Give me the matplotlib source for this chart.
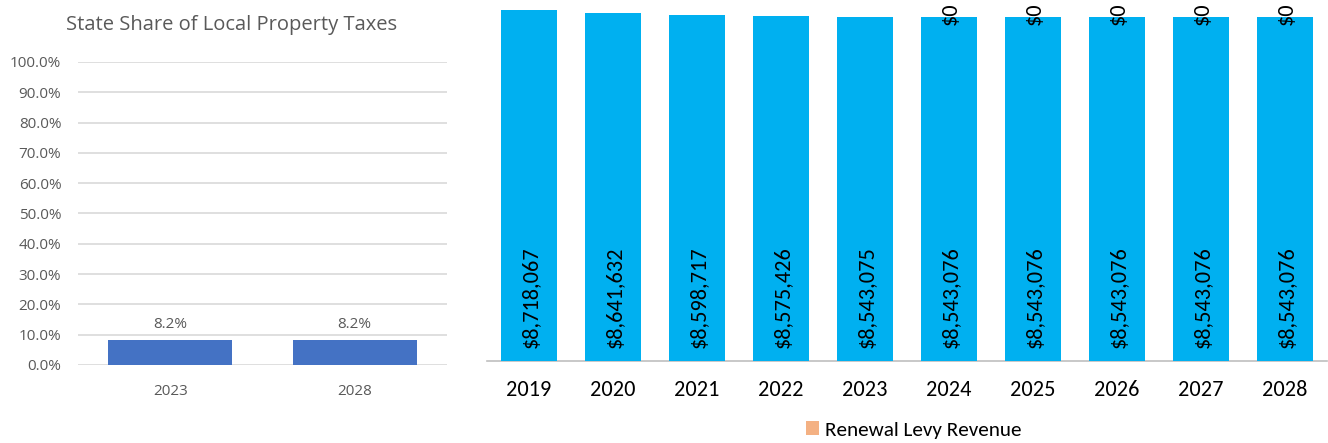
import numpy as np
import matplotlib.pyplot as plt

# left chart: state share
share_years = ['2023', '2028']
share_values = [0.082, 0.082]

# right chart: levy revenue
years = ['2019', '2020', '2021', '2022', '2023', '2024', '2025', '2026', '2027', '2028']
base_revenue = [8718067, 8641632, 8598717, 8575426, 8543075,
                8543076, 8543076, 8543076, 8543076, 8543076]
renewal_revenue = [np.nan, np.nan, np.nan, np.nan, np.nan, 0, 0, 0, 0, 0]

gray = '#595959'
left_font = ['Open Sans', 'DejaVu Sans']
right_font = ['Carlito', 'DejaVu Sans']

fig = plt.figure(figsize=(13.28, 4.43), dpi=100)

#%% left chart
ax1 = fig.add_axes([78/1328, 78/443, 369/1328, 303/443])
x1 = np.arange(len(share_years))
ax1.bar(x1, share_values, width=0.672, color='#4472C4', zorder=3)
ax1.set_xlim(-0.5, len(share_years) - 0.5)
ax1.set_ylim(0, 1)
ax1.set_yticks(np.arange(0, 1.01, 0.1))
ax1.set_yticklabels([f'{v*100:.1f}%' for v in np.arange(0, 1.01, 0.1)],
                    family=left_font, fontsize=11, color=gray)
ax1.set_xticks(x1)
ax1.set_xticklabels(share_years, family=left_font, fontsize=11, color=gray)
ax1.tick_params(axis='both', length=0)
ax1.tick_params(axis='y', pad=12)
ax1.tick_params(axis='x', pad=14)
ax1.grid(axis='y', color='#D9D9D9', linewidth=1.2, zorder=0)
for s in ax1.spines.values():
    s.set_visible(False)
for xi, v in zip(x1, share_values):
    ax1.annotate(f'{v*100:.1f}%', (xi, v), xytext=(0, 6), textcoords='offset points',
                 ha='center', va='bottom', family=left_font, fontsize=11, color=gray)
fig.text(232/1328, 1 - 25/443, 'State Share of Local Property Taxes', ha='center', va='center',
         family=left_font, fontsize=14.5, color=gray)

#%% right chart
ax2 = fig.add_axes([487/1328, 82/443, 840/1328, 362.3/443])
x2 = np.arange(len(years))
blue = ax2.bar(x2, base_revenue, width=0.667, color='#00B0F0', zorder=3)
orange = ax2.bar(x2, np.nan_to_num(renewal_revenue), bottom=base_revenue, width=0.667,
                 color='#F4B183', zorder=3, label='Renewal Levy Revenue')
ax2.set_xlim(-0.5, len(years) - 0.5)
ax2.set_ylim(0, 9000000)
ax2.set_yticks([])
ax2.set_xticks(x2)
ax2.set_xticklabels(years, family=right_font, fontsize=16, color='black')
ax2.tick_params(axis='x', length=0, pad=14)
for side in ['left', 'right', 'top']:
    ax2.spines[side].set_visible(False)
ax2.spines['bottom'].set_color('#BFBFBF')
ax2.spines['bottom'].set_linewidth(1.2)

for xi, v in zip(x2, base_revenue):
    ax2.annotate(f'${v:,.0f}', (xi, 0), xytext=(1, 9.4), textcoords='offset points',
                 rotation=90, ha='center', va='bottom', family=right_font,
                 fontsize=16, color='black', zorder=4)
for xi, b, r in zip(x2, base_revenue, renewal_revenue):
    if np.isnan(r):
        continue
    ax2.annotate(f'${r:,.0f}', (xi, b + r), xytext=(1, 2.5), textcoords='offset points',
                 rotation=90, ha='center', va='center', family=right_font,
                 fontsize=16, color='black', zorder=4)

fig.legend(handles=[orange], loc='center', bbox_to_anchor=(914/1328, 13/443), frameon=False,
           prop={'family': right_font, 'size': 15.2}, handlelength=0.58, handleheight=0.58,
           handletextpad=0.3, borderaxespad=0)

fig.savefig('out.png', dpi=100)
